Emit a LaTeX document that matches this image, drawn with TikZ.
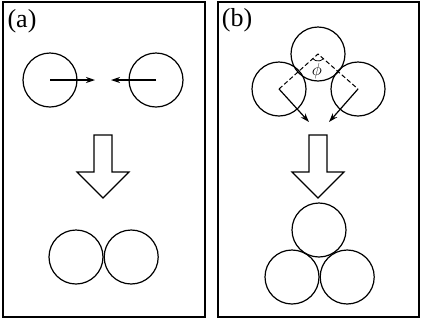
\documentclass[tikz,border=0pt]{standalone}
\usepackage{fontspec}
\setmainfont{Liberation Serif}
\usetikzlibrary{positioning,arrows.meta}

\begin{document}
\begin{tikzpicture}[x=1pt, y=-1pt,
	    panel/.style={draw, line width=2pt},
	    ball/.style={circle, draw, line width=1.2pt, minimum size=54pt, inner sep=0pt},
	    push/.style={draw, line width=1.2pt, -{Stealth[length=9pt, width=6pt]}},
	    bond/.style={draw, line width=1pt, dash pattern=on 4.5pt off 2.5pt},
	    tag/.style={inner sep=0pt, font=\fontsize{26}{28}\selectfont},
	    bigarrow/.pic={\draw[line width=1.2pt, line join=miter] (-9,0) -- (9,0) -- (9,37) -- (26,37) -- (0,63) -- (-26,37) -- (-9,37) -- cycle;}]
	    \useasboundingbox (0,0) rectangle (425,322);
	    
	    % panel (a)
	    \draw [panel] (3,2) rectangle (205,317);
	    \node [tag] (taga) at (22,21) {(a)};
	    \node [ball] (a1) at (50,80) {};
	    \node [ball] (a2) at (156,80) {};
	    \coordinate (a1end) at (95,80);
	    \coordinate (a2end) at (111,80);
	    \path [push] (a1.center) -- (a1end);
	    \path [push] (a2.center) -- (a2end);
	    \pic at (103,135) {bigarrow};
	    \node [ball] (c1) at (76,257) {};
	    \node [ball, right=0pt of c1] (c2) {};
	    
	    % panel (b)
	    \draw [panel] (218,2) rectangle (419,317);
	    \node [tag] (tagb) at (237,20) {(b)};
	    \node [ball] (b1) at (318,54) {};
	    \node [ball] (b2) at (279,89) {};
	    \node [ball] (b3) at (358,89) {};
	    \path [bond] (b2.center) -- (b1.center) -- (b3.center);
	    \draw [line width=0.8pt] ([shift={(140:7)}]b1.center) arc (140:40:7);
	    \node [font=\fontsize{17}{18}\selectfont, inner sep=0pt] (phi) at (317,71) {$\phi$};
	    \coordinate (b2end) at (309,122);
	    \coordinate (b3end) at (329,122);
	    \path [push] (b2.center) -- (b2end);
	    \path [push] (b3.center) -- (b3end);
	    \pic at (318,135) {bigarrow};
	    \node [ball] (d1) at (319,230) {};
	    \node [ball] (d2) at (292,277) {};
	    \node [ball, right=0pt of d2] (d3) {};
	\end{tikzpicture}
\end{document}
